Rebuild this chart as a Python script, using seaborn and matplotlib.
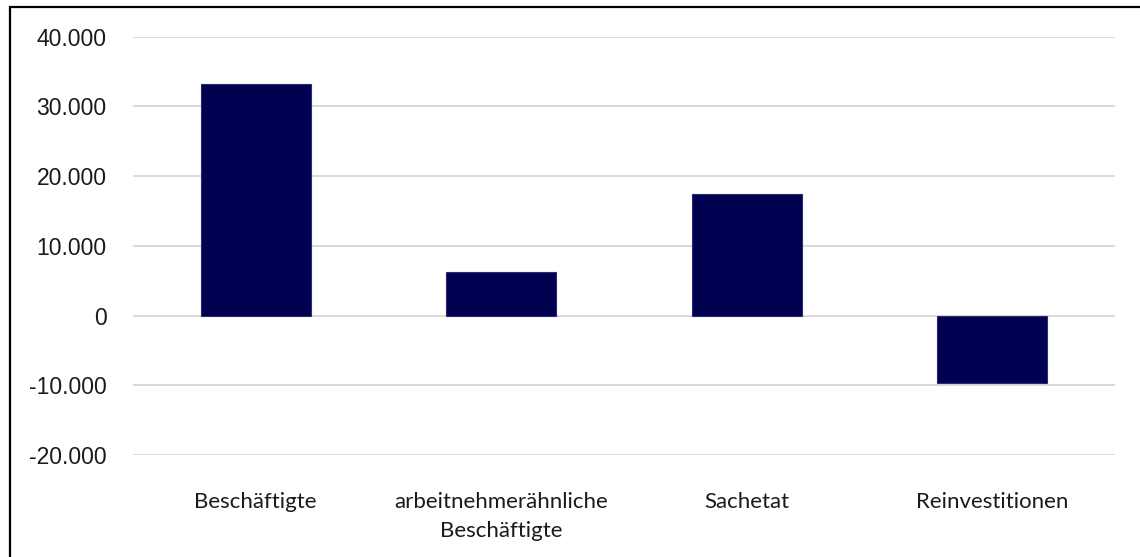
import matplotlib
matplotlib.use("Agg")
import matplotlib.pyplot as plt
import matplotlib.ticker as mticker
import matplotlib.transforms as mtrans
from matplotlib.patches import Rectangle
import seaborn as sns
import pandas as pd

categories = ["Beschäftigte", "arbeitnehmerähnliche\nBeschäftigte", "Sachetat", "Reinvestitionen"]
values = [33250, 6300, 17500, -9650]
yticks = [-20000, -10000, 0, 10000, 20000, 30000, 40000]

df = pd.DataFrame({"Kategorie": categories, "Wert": values})

sns.set_theme(style="white")
plt.rcParams["font.family"] = ["Liberation Sans", "DejaVu Sans"]

fig = plt.figure(figsize=(11.4, 5.57), dpi=100)
ax = fig.add_axes([133 / 1140, 1 - 455 / 557, (1115 - 133) / 1140, (455 - 36.7) / 557])

sns.barplot(data=df, x="Kategorie", y="Wert", color="#000050", width=0.45,
            edgecolor="#2a2a70", linewidth=0.8, saturation=1, ax=ax, zorder=3)

ax.set_ylim(-20000, 40000)
ax.set_yticks(yticks)
ax.yaxis.set_major_formatter(mticker.FuncFormatter(lambda v, p: f"{int(v):,}".replace(",", ".")))
ax.set_xlim(-0.5, len(categories) - 0.5)
ax.grid(axis="y", color="#d9d9d9", linewidth=1.4, zorder=0)
ax.set_axisbelow(True)
for s in ax.spines.values():
    s.set_visible(False)
ax.set_xlabel("")
ax.set_ylabel("")
ax.tick_params(axis="y", length=0, pad=19, labelsize=16.5, labelcolor="#1a1a1a")
ax.tick_params(axis="x", length=0, pad=0, labelsize=16, labelcolor="#1a1a1a")
ax.set_xticks(range(len(categories)))
ax.set_xticklabels(categories, family=["Lato", "DejaVu Sans"], linespacing=1.55)
# category labels sit well below the lowest gridline
offset = mtrans.ScaledTranslation(0, -37 / 100, fig.dpi_scale_trans)
for lbl in ax.get_xticklabels():
    lbl.set_verticalalignment("top")
    lbl.set_transform(lbl.get_transform() + offset)

fig.patches.append(Rectangle((10 / 1140, -0.05), 1.1, 1.05 - 7 / 557,
                             transform=fig.transFigure, fill=False,
                             edgecolor="black", linewidth=1.6, zorder=10))

fig.savefig("out.png", dpi=100)
